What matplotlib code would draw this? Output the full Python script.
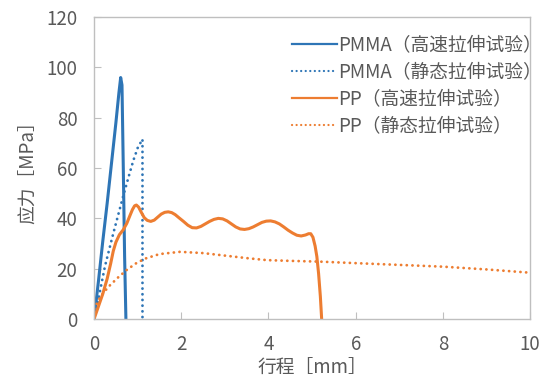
import matplotlib.pyplot as plt

plt.rcParams['font.family'] = ['Noto Sans CJK JP', 'DejaVu Sans']

# PMMA high-speed tensile test
pmma_fast_x = [0, 0.1, 0.2, 0.3, 0.4, 0.5, 0.57, 0.61, 0.64, 0.67, 0.7, 0.73]
pmma_fast_y = [0, 15, 31, 46, 62, 78, 90, 96, 93, 60, 25, 0]

# PMMA static tensile test
pmma_static_x = [0, 0.1, 0.25, 0.44, 0.67, 0.8, 0.9, 1.0, 1.11, 1.11]
pmma_static_y = [0, 8, 21, 34, 49, 57, 63, 68, 71.5, 0]

# PP high-speed tensile test
pp_fast_x = [0, 0.1, 0.2, 0.3, 0.38, 0.44, 0.5, 0.58, 0.67, 0.75, 0.82, 0.88,
             0.93, 0.97, 1.02, 1.08, 1.15, 1.22, 1.3, 1.38, 1.46, 1.54, 1.62,
             1.7, 1.78, 1.86, 1.95, 2.05, 2.15, 2.25, 2.35, 2.45, 2.55, 2.65,
             2.75, 2.85, 2.95, 3.05, 3.15, 3.25, 3.35, 3.45, 3.55, 3.65, 3.75,
             3.85, 3.95, 4.05, 4.15, 4.25, 4.35, 4.45, 4.55, 4.65, 4.75, 4.85,
             4.92, 4.97, 5.02, 5.07, 5.11, 5.15, 5.19, 5.22]
pp_fast_y = [0, 5, 10, 16, 22, 27, 30.5, 33.5, 35.5, 38, 41, 43.5,
             45, 45.3, 44.5, 42.5, 40.3, 39.2, 38.8, 39.3, 40.5, 41.7, 42.4,
             42.6, 42.3, 41.5, 40.2, 38.8, 37.3, 36.3, 36.2, 36.8, 37.8, 38.8,
             39.6, 40, 39.8, 39, 37.8, 36.6, 35.8, 35.6, 35.9, 36.6, 37.5,
             38.4, 38.9, 39, 38.6, 37.8, 36.6, 35.3, 34.2, 33.3, 33, 33.4,
             33.9, 33.9, 32.5, 29, 24.8, 18, 9, 0]

# PP static tensile test
pp_static_x = [0, 0.15, 0.33, 0.55, 0.75, 0.95, 1.17, 1.5, 1.97, 2.5, 3, 3.5,
               3.96, 4.5, 5.18, 6, 7, 8, 9, 10]
pp_static_y = [4, 9, 12.8, 16.5, 19.5, 22, 24, 25.8, 26.7, 26.2, 25.2, 24.2,
               23.4, 23.1, 22.8, 22.2, 21.5, 20.8, 19.7, 18.4]

labels = ["PMMA（高速拉伸试验）", "PMMA（静态拉伸试验）",
          "PP（高速拉伸试验）", "PP（静态拉伸试验）"]

blue = "#2E75B6"
orange = "#ED7D31"
text_c = "#595959"
grid_c = "#BFBFBF"
dot = (0, (0.05, 2.0))

fig = plt.figure(figsize=(5.47, 3.82), dpi=100)
ax = fig.add_axes([0.172, 0.165, 0.797, 0.79])

ax.plot(pmma_fast_x, pmma_fast_y, color=blue, lw=2.2, label=labels[0])
ax.plot(pmma_static_x, pmma_static_y, color=blue, lw=2.0, ls=dot,
        dash_capstyle="round", label=labels[1])
ax.plot(pp_fast_x, pp_fast_y, color=orange, lw=2.2, label=labels[2])
ax.plot(pp_static_x, pp_static_y, color=orange, lw=2.0, ls=dot,
        dash_capstyle="round", label=labels[3])

ax.set_xlim(0, 10)
ax.set_ylim(0, 120)
ax.set_xticks(range(0, 11, 2))
ax.set_yticks(range(0, 121, 20))
ax.tick_params(direction="in", length=5, color=grid_c, labelcolor=text_c,
               labelsize=13.5)
ax.tick_params(axis="x", pad=11)
ax.tick_params(axis="y", pad=12)
for s in ax.spines.values():
    s.set_color(grid_c)
    s.set_linewidth(1.0)

ax.set_xlabel("行程［mm］", fontsize=13.5, color=text_c, labelpad=2)
ax.set_ylabel("应力［MPa］", fontsize=13.5, color=text_c, labelpad=5)

leg = ax.legend(loc="upper right", frameon=False, fontsize=13.5,
                handlelength=2.4, handletextpad=0.05, labelspacing=0.32,
                borderaxespad=0.0, bbox_to_anchor=(1.044, 0.968))
for line in leg.get_lines():
    line.set_linewidth(1.6)
for t in leg.get_texts():
    t.set_color(text_c)

fig.savefig("out.png", dpi=100)
